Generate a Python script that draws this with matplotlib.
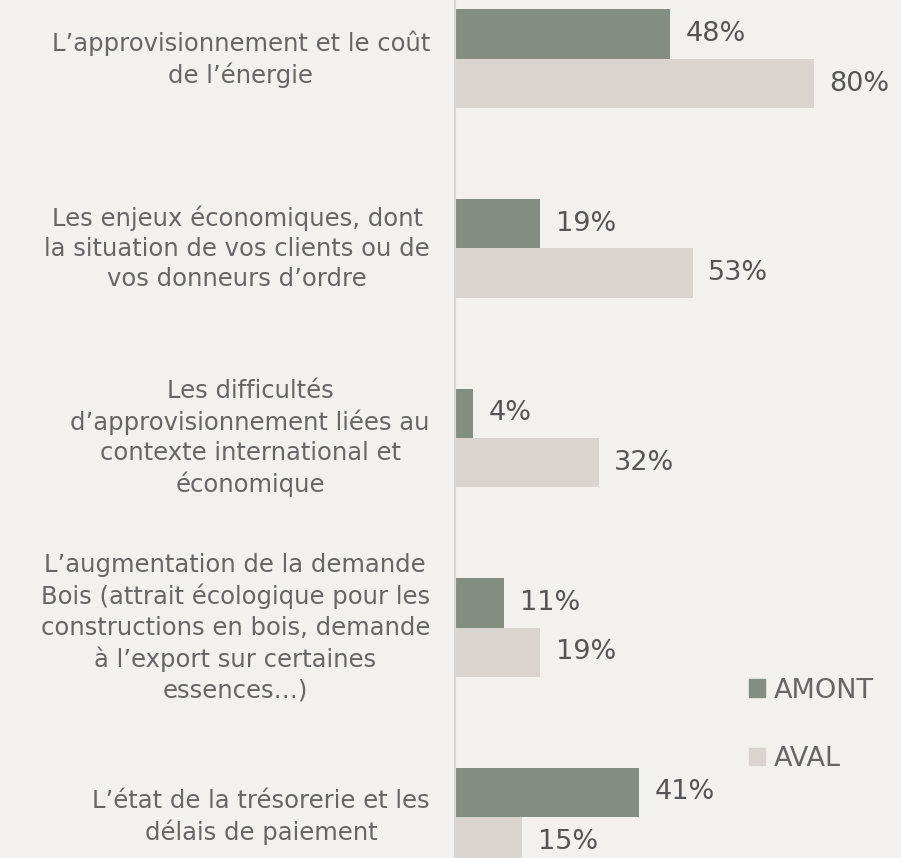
import matplotlib
matplotlib.use("Agg")
import matplotlib.pyplot as plt
from matplotlib.patches import Patch
import numpy as np

categories = [
    "L\u2019approvisionnement et le coût\nde l\u2019énergie",
    "Les enjeux économiques, dont\nla situation de vos clients ou de\nvos donneurs d\u2019ordre",
    "Les difficultés\nd\u2019approvisionnement liées au\ncontexte international et\néconomique",
    "L\u2019augmentation de la demande\nBois (attrait écologique pour les\nconstructions en bois, demande\nà l\u2019export sur certaines\nessences\u2026)",
    "L\u2019état de la trésorerie et les\ndélais de paiement",
]
series_names = ["AMONT", "AVAL"]
amont = [48, 19, 4, 11, 41]
aval = [80, 53, 32, 19, 15]

BG = "#f2f1ee"
C_AMONT = "#838d82"
C_AVAL = "#d9d4cf"
TXT = "#666666"
VAL = "#555555"

W, H = 901, 858
fig = plt.figure(figsize=(W / 100, H / 100), dpi=100, facecolor=BG)
ax = fig.add_axes([455 / W, 0, 1 - 455 / W, 1], facecolor=BG)

y = np.arange(len(categories))
h = 0.261
ax.barh(y - h / 2, amont, height=h, color=C_AMONT, label=series_names[0])
ax.barh(y + h / 2, aval, height=h, color=C_AVAL, label=series_names[1])

for yi, v in zip(y - h / 2, amont):
    ax.annotate(f"{v}%", (v, yi), xytext=(11, 0), textcoords="offset points",
                va="center", ha="left", fontsize=19.5, color=VAL)
for yi, v in zip(y + h / 2, aval):
    ax.annotate(f"{v}%", (v, yi), xytext=(11, 0), textcoords="offset points",
                va="center", ha="left", fontsize=19.5, color=VAL)

ax.set_xlim(0, 99.4)
ax.set_ylim(4.216, -0.311)
ax.set_yticks(y)
ax.set_yticklabels(categories, fontsize=17.5, color=TXT, linespacing=1.33)
for t in ax.get_yticklabels():
    t.set_multialignment("center")
    t.set_verticalalignment("center")
ax.tick_params(axis="y", length=0, pad=18)
ax.set_xticks([])
for s in ["top", "right", "bottom"]:
    ax.spines[s].set_visible(False)
ax.spines["left"].set_color("#d6d6d6")
ax.spines["left"].set_linewidth(1.5)

handles = [Patch(color=C_AMONT), Patch(color=C_AVAL)]
fig.legend(handles, series_names, loc="upper left",
           bbox_to_anchor=(735 / W, 1 - 664 / H), frameon=False,
           fontsize=19.5, handlelength=0.6, handleheight=0.6,
           handletextpad=0.35, labelspacing=1.56, borderpad=0,
           labelcolor=TXT)

fig.savefig("out.png", dpi=100, facecolor=BG)
